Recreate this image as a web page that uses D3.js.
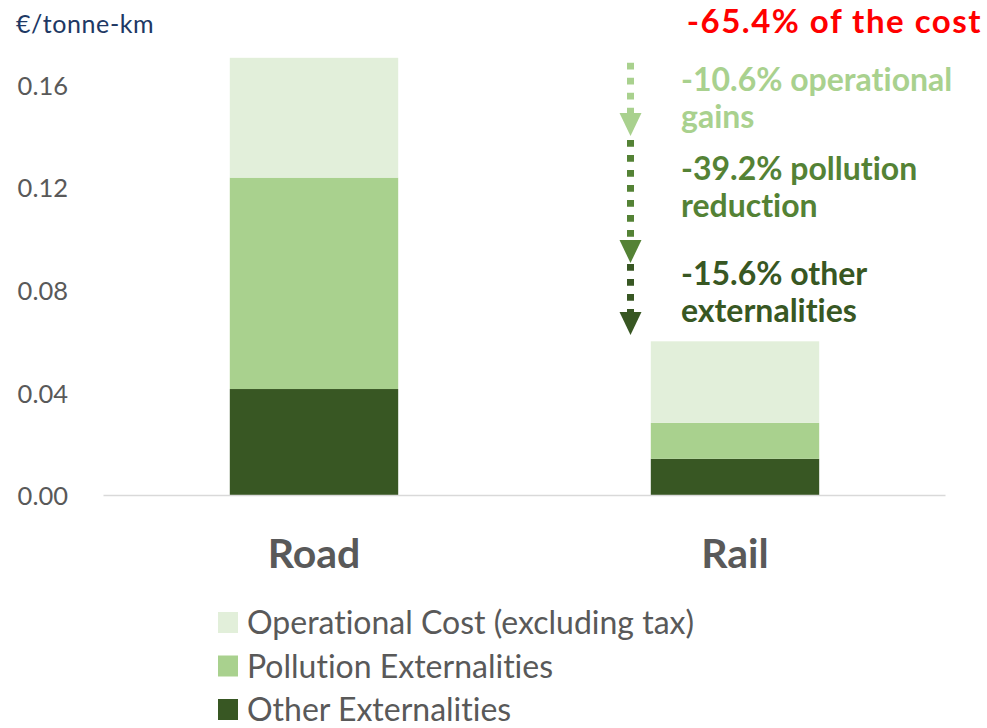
<!DOCTYPE html>
<html>
<head>
<meta charset="utf-8">
<script src="https://cdn.jsdelivr.net/npm/d3@7"></script>
<style>
  html, body { margin: 0; padding: 0; background: #ffffff; }
  svg { display: block; font-family: Lato, "Open Sans", sans-serif; font-variant-ligatures: none; }
</style>
</head>
<body>
<svg id="chart" width="987" height="728"></svg>
<script>
// Cost per tonne-km, split into three components
const categories = ["Road", "Rail"];
const seriesNames = ["Other Externalities", "Pollution Externalities", "Operational Cost (excluding tax)"];
const otherExternalities = [0.0415, 0.0143];
const pollutionExternalities = [0.0824, 0.0140];
const operationalCost = [0.0467, 0.0318];
const yTicks = [0.00, 0.04, 0.08, 0.12, 0.16];
const legendOrder = ["Operational Cost (excluding tax)", "Pollution Externalities", "Other Externalities"];
const colors = {
  "Operational Cost (excluding tax)": "#E2EFDA",
  "Pollution Externalities": "#A9D18E",
  "Other Externalities": "#385723"
};
// Reduction notes shown next to the Rail bar
const totalNote = "-65.4% of the cost";
const notes = [
  { lines: ["-10.6% operational", "gains"], color: "#A9D18E" },
  { lines: ["-39.2% pollution", "reduction"], color: "#548235" },
  { lines: ["-15.6% other", "externalities"], color: "#385723" }
];

const rows = categories.map((c, i) => ({
  category: c,
  "Other Externalities": otherExternalities[i],
  "Pollution Externalities": pollutionExternalities[i],
  "Operational Cost (excluding tax)": operationalCost[i]
}));

const svg = d3.select("#chart");

const x = d3.scaleBand()
  .domain(categories)
  .range([103.5, 945.5])
  .paddingInner(0.6)
  .paddingOuter(0.3);

const y = d3.scaleLinear()
  .domain([0, 0.16])
  .range([495.5, 85]);

// y axis labels
const yAxis = d3.axisLeft(y).tickValues(yTicks).tickFormat(d3.format(".2f")).tickSize(0).tickPadding(0);
const yg = svg.append("g").attr("transform", "translate(68,0)").call(yAxis);
yg.select(".domain").remove();
yg.selectAll("text")
  .attr("fill", "#595959")
  .attr("font-size", 25.5)
  .attr("font-family", "Lato, sans-serif")
  .attr("dy", "0.36em");

// unit label
svg.append("text")
  .attr("x", 16).attr("y", 33)
  .attr("fill", "#203864")
  .attr("font-size", 25)
  .attr("letter-spacing", 0.6)
  .text("€/tonne-km");

// stacked bars
const stack = d3.stack().keys(seriesNames);
const layers = stack(rows);

svg.append("g").selectAll("g")
  .data(layers)
  .join("g")
  .attr("fill", d => colors[d.key])
  .selectAll("rect")
  .data(d => d)
  .join("rect")
  .attr("x", d => x(d.data.category))
  .attr("width", x.bandwidth())
  .attr("y", d => y(d[1]))
  .attr("height", d => y(d[0]) - y(d[1]));

// baseline
svg.append("line")
  .attr("x1", x.range()[0]).attr("x2", x.range()[1])
  .attr("y1", y(0)).attr("y2", y(0))
  .attr("stroke", "#D9D9D9").attr("stroke-width", 1.5);

// category labels
const xAxis = d3.axisBottom(x).tickSize(0).tickPadding(0);
const xg = svg.append("g").attr("transform", `translate(0,${y(0)})`).call(xAxis);
xg.select(".domain").remove();
xg.selectAll("text")
  .attr("fill", "#595959")
  .attr("font-size", 41)
  .attr("font-weight", "bold")
  .attr("font-family", "Lato, sans-serif")
  .attr("dy", 0)
  .attr("y", 72);

// total reduction headline
svg.append("text")
  .attr("x", 982).attr("y", 33)
  .attr("text-anchor", "end")
  .attr("fill", "#FF0000")
  .attr("font-size", 33)
  .attr("font-weight", "bold")
  .attr("letter-spacing", 1.5)
  .text(totalNote);

// dashed arrows
const arrowX = 630.5;
const arrows = [
  { y0: 62.7, y1: 136, color: notes[0].color },
  { y0: 140, y1: 263, color: notes[1].color },
  { y0: 264, y1: 335, color: notes[2].color }
];
const headH = 23, headW = 22;
arrows.forEach(a => {
  svg.append("line")
    .attr("x1", arrowX).attr("x2", arrowX)
    .attr("y1", a.y0).attr("y2", a.y1 - headH + 1)
    .attr("stroke", a.color)
    .attr("stroke-width", 7)
    .attr("stroke-dasharray", "6.7 8.3");
  svg.append("path")
    .attr("d", `M${arrowX - headW / 2},${a.y1 - headH} L${arrowX + headW / 2},${a.y1 - headH} L${arrowX},${a.y1} Z`)
    .attr("fill", a.color);
});

// reduction notes
const noteY = [91, 180, 285];
notes.forEach((n, i) => {
  const t = svg.append("text")
    .attr("x", 681).attr("y", noteY[i])
    .attr("fill", n.color)
    .attr("font-size", 32)
    .attr("font-weight", "bold");
  n.lines.forEach((l, j) => {
    t.append("tspan").attr("x", 681).attr("dy", j === 0 ? 0 : 37).text(l);
  });
});

// legend
const legend = svg.append("g").selectAll("g")
  .data(legendOrder)
  .join("g")
  .attr("transform", (d, i) => `translate(218,${612 + i * 43.5})`);
legend.append("rect")
  .attr("width", 20).attr("height", 21)
  .attr("fill", d => colors[d]);
legend.append("text")
  .attr("x", 29).attr("y", 22)
  .attr("fill", "#595959")
  .attr("font-size", 32)
  .text(d => d);
</script>
</body>
</html>
